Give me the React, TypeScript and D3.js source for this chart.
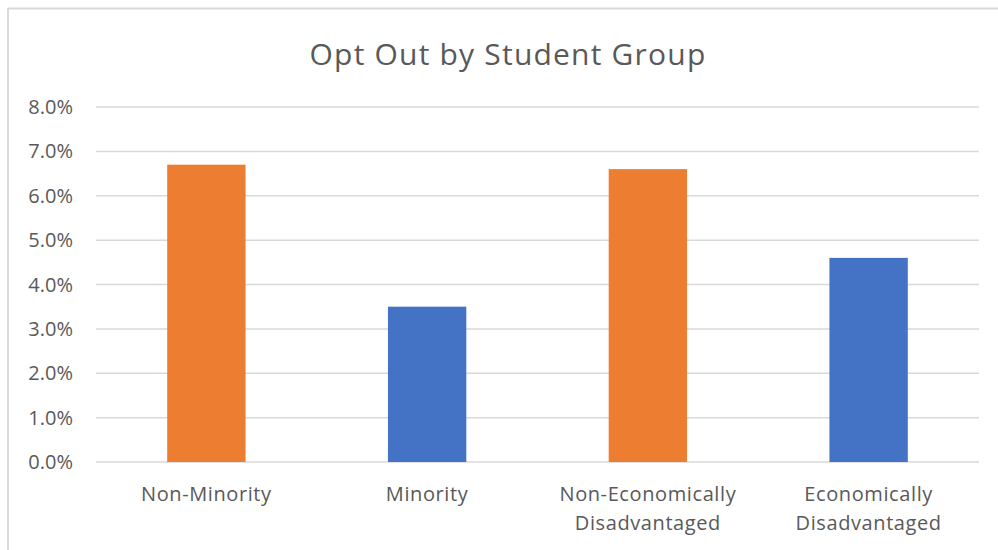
import React from "react";
import * as d3 from "d3";

const categories: string[][] = [
  ["Non-Minority"],
  ["Minority"],
  ["Non-Economically", "Disadvantaged"],
  ["Economically", "Disadvantaged"],
];
const values: number[] = [0.067, 0.035, 0.066, 0.046];
const barColors: string[] = ["#ED7D31", "#4472C4", "#ED7D31", "#4472C4"];
const yTicks: number[] = [0, 0.01, 0.02, 0.03, 0.04, 0.05, 0.06, 0.07, 0.08];
const title = "Opt Out by Student Group";

const W = 998;
const H = 550;
const plotLeft = 96;
const plotRight = 979;
const plotTop = 107;
const plotBottom = 462;
const FONT = "'Open Sans', sans-serif";
const TEXT = "#595959";
const GRID = "#D9D9D9";

export default function App() {
  const x = d3
    .scaleBand<number>()
    .domain(values.map((_, i) => i))
    .range([plotLeft, plotRight])
    .padding(0);
  const y = d3.scaleLinear().domain([0, 0.08]).range([plotBottom, plotTop]);
  const fmt = d3.format(".1%");
  const barW = x.bandwidth() * 0.355;

  return (
    <svg
      width={W}
      height={H}
      style={{ position: "absolute", left: 0, top: 0, background: "#fff" }}
    >
      <rect x={0} y={0} width={W} height={H} fill="#fff" />
      {/* frame */}
      <line x1={8} x2={W} y1={8.5} y2={8.5} stroke={GRID} strokeWidth={2} />
      <line x1={8} x2={8} y1={8} y2={H} stroke={GRID} strokeWidth={2} />
      <text
        x={508}
        y={65}
        textAnchor="middle"
        fontFamily={FONT}
        fontSize={30}
        letterSpacing={1.2}
        fill={TEXT}
      >
        {title}
      </text>
      {yTicks.map((t) => (
        <g key={t}>
          <line
            x1={plotLeft}
            x2={plotRight}
            y1={y(t)}
            y2={y(t)}
            stroke={GRID}
            strokeWidth={1.5}
          />
          <text
            x={73}
            y={y(t) + 7}
            textAnchor="end"
            fontFamily={FONT}
            fontSize={20}
            fill={TEXT}
          >
            {fmt(t)}
          </text>
        </g>
      ))}
      {values.map((v, i) => {
        const cx = (x(i) as number) + x.bandwidth() / 2;
        return (
          <g key={i}>
            <rect
              x={cx - barW / 2}
              y={y(v)}
              width={barW}
              height={y(0) - y(v)}
              fill={barColors[i]}
            />
            {categories[i].map((line, j) => (
              <text
                key={j}
                x={cx}
                y={501 + j * 29}
                textAnchor="middle"
                fontFamily={FONT}
                fontSize={20}
                letterSpacing={0.6}
                fill={TEXT}
              >
                {line}
              </text>
            ))}
          </g>
        );
      })}
    </svg>
  );
}
